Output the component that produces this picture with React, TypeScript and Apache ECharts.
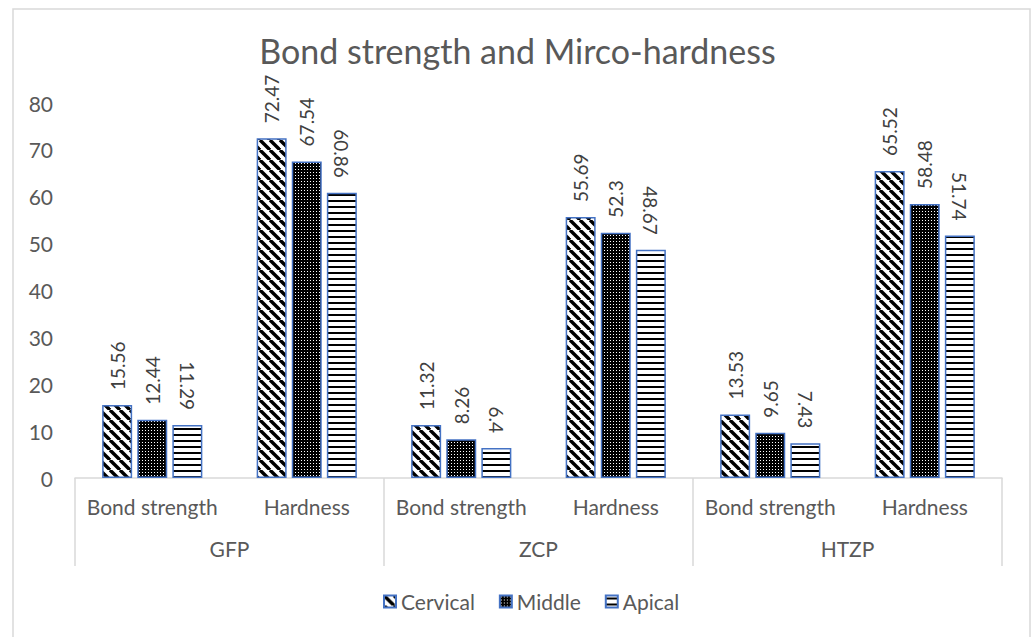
import React, { useEffect, useRef } from "react";
import * as echarts from "echarts";

const subCategories = ["Bond strength", "Hardness", "Bond strength", "Hardness", "Bond strength", "Hardness"];
const groups = ["GFP", "ZCP", "HTZP"];
const cervical = [15.56, 72.47, 11.32, 55.69, 13.53, 65.52];
const middle = [12.44, 67.54, 8.26, 52.3, 9.65, 58.48];
const apical = [11.29, 60.86, 6.4, 48.67, 7.43, 51.74];
const seriesNames = ["Cervical", "Middle", "Apical"];

function makeTile(kind: string) {
  const c = document.createElement("canvas");
  if (kind === "diag") {
    const s = 10;
    c.width = s; c.height = s;
    const g = c.getContext("2d")!;
    g.fillStyle = "#fff"; g.fillRect(0, 0, s, s);
    g.strokeStyle = "#000"; g.lineWidth = 3.4;
    for (const off of [-s, 0, s]) {
      g.beginPath(); g.moveTo(off, 0); g.lineTo(off + s, s); g.stroke();
    }
  } else if (kind === "dots") {
    const s = 3;
    c.width = s; c.height = s;
    const g = c.getContext("2d")!;
    g.fillStyle = "#000"; g.fillRect(0, 0, s, s);
    g.fillStyle = "#fff"; g.fillRect(1, 1, 1, 1);
  } else {
    const s = 6;
    c.width = s; c.height = s;
    const g = c.getContext("2d")!;
    g.fillStyle = "#fff"; g.fillRect(0, 0, s, s);
    g.fillStyle = "#000"; g.fillRect(0, 2, s, 2);
  }
  return { type: "pattern", image: c.toDataURL(), imageWidth: c.width, imageHeight: c.height, repeat: "repeat" } as any;
}

export default function App() {
  const ref = useRef<HTMLDivElement>(null);
  useEffect(() => {
    const chart = echarts.init(ref.current!, null, { renderer: "svg" });
    const font = "Lato, 'Open Sans', sans-serif";
    const patterns = [makeTile("diag"), makeTile("dots"), makeTile("horiz")];
    const dataArr = [cervical, middle, apical];
    chart.setOption({
      animation: false,
      textStyle: { fontFamily: font },
      graphic: [
        { type: "rect", shape: { x: 13, y: 9, width: 1017, height: 640 }, style: { fill: "none", stroke: "#d9d9d9", lineWidth: 1.5 }, silent: true },
      ],
      title: {
        text: "Bond strength and Mirco-hardness",
        left: "center",
        top: 28,
        textStyle: { fontSize: 34, fontWeight: "normal", color: "#595959", fontFamily: font },
      },
      legend: {
        data: seriesNames,
        bottom: 20,
        left: 378,
        itemWidth: 12,
        itemHeight: 12,
        itemGap: 24,
        icon: "rect",
        textStyle: { fontSize: 21, color: "#595959", fontFamily: font },
      },
      grid: { left: 75, right: 33, top: 103, bottom: 159, containLabel: false },
      xAxis: [
        {
          type: "category",
          data: subCategories,
          position: "bottom",
          axisLine: { lineStyle: { color: "#d9d9d9", width: 1.5 } },
          axisTick: { show: false },
          axisLabel: { fontSize: 21, color: "#595959", margin: 18, interval: 0 },
        },
        {
          type: "category",
          data: groups,
          position: "bottom",
          axisLine: { show: false },
          axisTick: { show: true, length: 88, lineStyle: { color: "#d9d9d9", width: 1.5 }, interval: 0 },
          axisLabel: { fontSize: 21, color: "#595959", margin: 60, interval: 0 },
        },
      ],
      yAxis: {
        type: "value",
        min: 0,
        max: 80,
        interval: 10,
        axisLine: { show: false },
        axisTick: { show: false },
        splitLine: { show: false },
        axisLabel: { fontSize: 21, color: "#595959", margin: 22 },
      },
      series: seriesNames.map((name, i) => ({
        name,
        type: "bar",
        xAxisIndex: 0,
        data: dataArr[i],
        barWidth: 30,
        barGap: "17%",
        itemStyle: { color: patterns[i], borderColor: "#4472C4", borderWidth: 1.5 },
        label: {
          show: true,
          position: "top",
          rotate: i === 2 ? -90 : 90,
          align: i === 2 ? "right" : "left",
          verticalAlign: "middle",
          distance: 15,
          fontSize: 19,
          color: "#404040",
          fontFamily: font,
        },
      })),
    });
    return () => chart.dispose();
  }, []);
  return <div ref={ref} style={{ position: "absolute", left: 0, top: 0, width: 1035, height: 637 }} />;
}
